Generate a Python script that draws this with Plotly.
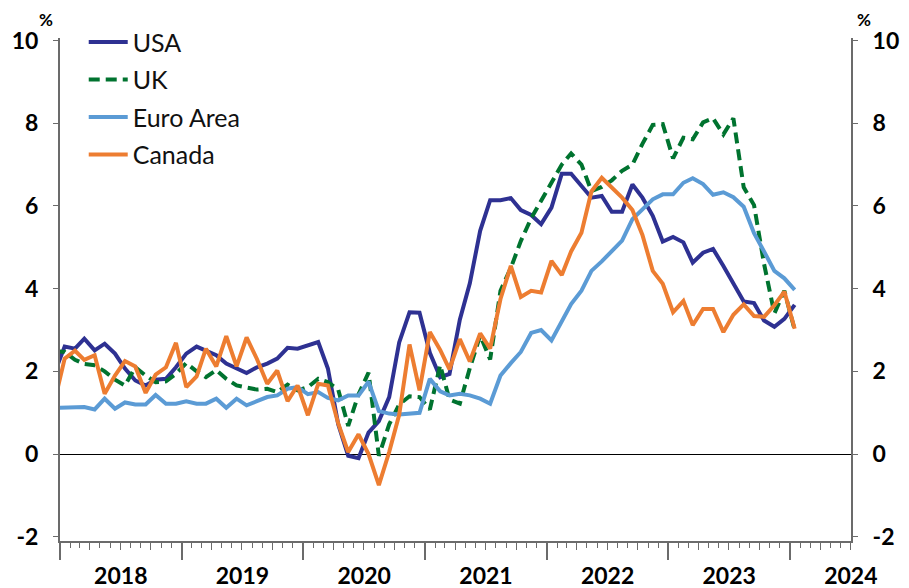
import pandas as pd
import plotly.graph_objects as go

# monthly observations, mid-month, Dec 2017 to Jan 2024 (Dec 2017 is clipped by the axis)
months = pd.date_range("2017-12-01", "2024-01-01", freq="MS") + pd.Timedelta(days=14)

usa = [1.95,
       2.60, 2.55, 2.79, 2.51, 2.67, 2.43, 2.07, 1.78, 1.66, 1.80, 1.82, 2.10,
       2.43, 2.60, 2.51, 2.39, 2.19, 2.07, 1.96, 2.10, 2.19, 2.31, 2.57, 2.55,
       2.63, 2.71, 2.07, 0.72, -0.04, -0.10, 0.52, 0.80, 1.38, 2.70, 3.43, 3.42,
       2.45, 1.86, 1.94, 3.25, 4.13, 5.40, 6.14, 6.14, 6.19, 5.90, 5.78, 5.56,
       5.96, 6.78, 6.78, 6.48, 6.20, 6.24, 5.86, 5.86, 6.52, 6.20, 5.76, 5.14,
       5.25, 5.12, 4.63, 4.87, 4.96, 4.55, 4.11, 3.69, 3.65, 3.23, 3.08, 3.27,
       3.61]
uk = [2.50,
      2.47, 2.28, 2.18, 2.15, 2.00, 1.80, 1.66, 2.10, 1.90, 1.74, 1.76, 1.94,
      2.20, 2.00, 1.86, 2.03, 1.82, 1.66, 1.62, 1.56, 1.58, 1.50, 1.68, 1.54,
      1.62, 1.82, 1.74, 1.56, 0.68, 1.45, 1.97, -0.04, 0.72, 1.20, 1.40, 1.38,
      1.08, 2.15, 1.32, 1.22, 2.08, 2.87, 2.29, 3.95, 4.50, 5.15, 5.70, 6.12,
      6.60, 7.00, 7.27, 7.00, 6.36, 6.46, 6.62, 6.85, 7.00, 7.50, 7.96, 7.98,
      7.15, 7.65, 7.61, 8.02, 8.12, 7.73, 8.12, 6.45, 6.02, 4.60, 3.40, 3.95,
      3.00]
euro_area = [1.12,
             1.12, 1.12, 1.14, 1.08, 1.34, 1.10, 1.25, 1.20, 1.20, 1.43, 1.22, 1.22,
             1.28, 1.22, 1.22, 1.34, 1.12, 1.34, 1.18, 1.28, 1.38, 1.42, 1.58, 1.62,
             1.45, 1.50, 1.36, 1.30, 1.42, 1.42, 1.75, 1.04, 0.98, 0.96, 0.98, 1.00,
             1.82, 1.52, 1.42, 1.46, 1.42, 1.34, 1.22, 1.90, 2.20, 2.47, 2.93, 3.00,
             2.75, 3.23, 3.63, 3.95, 4.43, 4.66, 4.92, 5.16, 5.68, 5.92, 6.16, 6.28,
             6.28, 6.56, 6.67, 6.53, 6.27, 6.33, 6.21, 5.98, 5.34, 4.90, 4.43, 4.25,
             3.97]
canada = [1.25,
          2.31, 2.50, 2.28, 2.39, 1.46, 1.90, 2.25, 2.12, 1.48, 1.92, 2.10, 2.69,
          1.62, 1.88, 2.55, 2.12, 2.85, 2.12, 2.82, 2.30, 1.70, 2.02, 1.28, 1.66,
          0.94, 1.70, 1.66, 0.74, 0.05, 0.48, 0.00, -0.75, 0.05, 0.95, 2.65, 1.54,
          2.95, 2.52, 2.05, 2.78, 2.24, 2.92, 2.55, 3.75, 4.55, 3.80, 3.95, 3.91,
          4.67, 4.33, 4.90, 5.35, 6.35, 6.68, 6.45, 6.20, 5.90, 5.30, 4.43, 4.12,
          3.43, 3.70, 3.12, 3.51, 3.51, 2.95, 3.37, 3.62, 3.34, 3.32, 3.60, 3.93,
          3.03]

y_ticks = [-2, 0, 2, 4, 6, 8, 10]
y_tick_labels = ["-2", "0", "2", "4", "6", "8", "10"]

# last series sits on the twin axes so the right-hand scale is drawn as well
series = [
    ("USA", usa, "#2E3192", "solid", "x", "y"),
    ("UK", uk, "#00732F", "11px,6px", "x", "y"),
    ("Euro Area", euro_area, "#5B9BD5", "solid", "x", "y"),
    ("Canada", canada, "#ED7D31", "solid", "x2", "y2"),
]

axis_grey = "#6B6B6B"
tick_font = dict(family="Lato", size=23, color="#000000", weight="bold")
x_range = ["2018-01-01", "2024-07-02"]
y_range = [-2.1, 10.06]

fig = go.Figure()
for name, values, colour, dash, xa, ya in series:
    fig.add_trace(go.Scatter(
        x=months, y=values, name=name, mode="lines", legendgroup=name,
        xaxis=xa, yaxis=ya,
        line=dict(color=colour, width=4, dash=dash),
    ))

# the page adds an 8px body margin, so the figure is 8px smaller each way
fig.update_layout(
    width=901,
    height=580,
    margin=dict(l=52, r=58, t=29, b=47),
    paper_bgcolor="white",
    plot_bgcolor="white",
    font=dict(family="Lato", color="#000000"),
    showlegend=True,
    legend=dict(
        x=0.030, y=1.035, xanchor="left", yanchor="top",
        font=dict(family="Lato", size=25, color="#111111"),
        bgcolor="rgba(0,0,0,0)", traceorder="grouped", tracegroupgap=2,
        itemwidth=39,
    ),
    xaxis=dict(
        type="date", range=x_range, tick0="2018-01-01", dtick="M12",
        tickformat="%Y", ticklabelmode="period", automargin=False,
        ticks="outside", ticklen=17, tickwidth=1.5, tickcolor=axis_grey,
        showline=True, linecolor=axis_grey, linewidth=2, showgrid=False,
        tickfont=tick_font, ticklabelstandoff=-4,
        minor=dict(dtick="M1", tick0="2018-01-01", ticks="outside", ticklen=5,
                   tickwidth=1, tickcolor=axis_grey, showgrid=False),
    ),
    xaxis2=dict(
        type="date", range=x_range, overlaying="x", anchor="y2", side="bottom",
        tick0="2018-01-01", dtick="M3", ticks="outside", ticklen=8,
        tickwidth=1, tickcolor=axis_grey, showticklabels=False,
        showline=False, showgrid=False, automargin=False,
    ),
    yaxis=dict(
        range=y_range, tickvals=y_ticks, ticktext=y_tick_labels,
        ticks="outside", ticklen=5, automargin=False,
        tickcolor=axis_grey, showline=True, linecolor=axis_grey, linewidth=2,
        showgrid=False, zeroline=True, zerolinecolor="#000000", zerolinewidth=1,
        tickfont=tick_font, ticklabelstandoff=10,
    ),
    yaxis2=dict(
        range=y_range, overlaying="y", anchor="x2", side="right",
        tickvals=y_ticks, ticktext=y_tick_labels,
        ticks="outside", ticklen=5, tickcolor=axis_grey, automargin=False,
        showline=True, linecolor=axis_grey, linewidth=2, showgrid=False,
        zeroline=False, tickfont=tick_font, ticklabelstandoff=10,
    ),
    annotations=[
        dict(text="<b>%</b>", xref="paper", yref="paper", x=-0.018, y=1.036,
             xanchor="center", yanchor="middle", showarrow=False, borderpad=0,
             font=dict(family="Lato", size=17, color="#000000")),
        dict(text="<b>%</b>", xref="paper", yref="paper", x=1.016, y=1.036,
             xanchor="center", yanchor="middle", showarrow=False, borderpad=0,
             font=dict(family="Lato", size=17, color="#000000")),
    ],
)

fig.write_html("out.html")
